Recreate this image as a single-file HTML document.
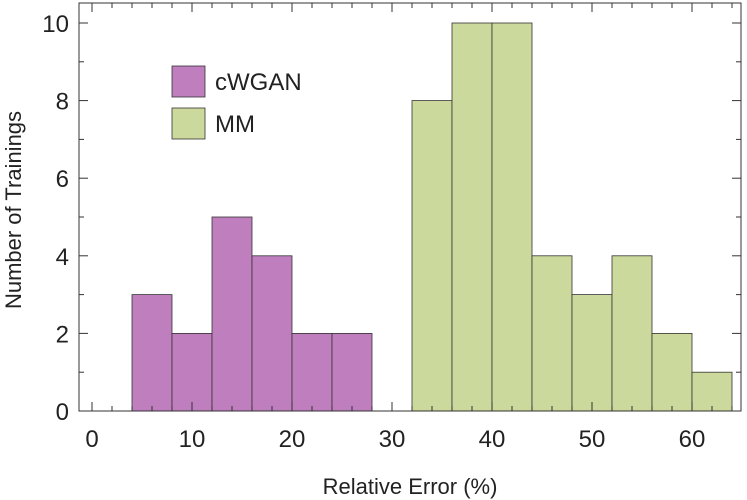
<!DOCTYPE html>
<html><head><meta charset="utf-8"><style>body{margin:0;background:#fff}svg{display:block}text{font-family:"Liberation Sans",sans-serif;fill:#222}</style></head>
<body>
<svg id="c" width="747" height="500"></svg>
<script>
const binStarts=[4,8,12,16,20,24,32,36,40,44,48,52,56,60];
const cwganStarts=[4,8,12,16,20,24];
const cwganCounts=[3,2,5,4,2,2];
const mmStarts=[32,36,40,44,48,52,56,60];
const mmCounts=[8,10,10,4,3,4,2,1];
const binWidth=4;
const xTicks=[0,10,20,30,40,50,60];
const yTicks=[0,2,4,6,8,10];
const svg=document.getElementById('c');
const NS='http://www.w3.org/2000/svg';
const L=79,R=741,T=3,B=411;
const xs=v=>92+v*10;
const ys=v=>411-v*38.8;
function mk(t,a,p){const e=document.createElementNS(NS,t);for(const k in a)e.setAttribute(k,a[k]);(p||svg).appendChild(e);return e;}
function bars(starts,counts,fill,name){
 const g=mk('g',{});
 
 
 starts.forEach((s,i)=>{
  const r=mk('rect',{x:xs(s),y:ys(counts[i]),width:xs(s+binWidth)-xs(s),height:ys(0)-ys(counts[i]),fill:fill,stroke:'#333','stroke-width':0.8},g);
  
  
 });
}
bars(cwganStarts,cwganCounts,'#bf7fbf','cwgan');
bars(mmStarts,mmCounts,'#cbda9c','mm');
const ax=mk('g',{stroke:'#333','stroke-width':1,fill:'none'});


mk('rect',{x:L,y:T,width:R-L,height:B-T},ax);
for(let v=0;v<=64;v+=2){const big=v%10===0,len=big?9:5;
 mk('line',{x1:xs(v),x2:xs(v),y1:B,y2:B-len},ax);mk('line',{x1:xs(v),x2:xs(v),y1:T,y2:T+len},ax);}
for(let v=0;v<=10;v++){const big=v%2===0,len=big?9:5;
 mk('line',{x1:L,x2:L+len,y1:ys(v),y2:ys(v)},ax);mk('line',{x1:R,x2:R-len,y1:ys(v),y2:ys(v)},ax);}
xTicks.forEach(v=>{const t=mk('text',{x:xs(v),y:447,'text-anchor':'middle','font-size':24});t.textContent=v;
 });
yTicks.forEach(v=>{const t=mk('text',{x:L-10,y:ys(v)+9,'text-anchor':'end','font-size':24});t.textContent=v;
 });
</script>
<div style="position:absolute;left:0;top:0;width:747px;height:500px;pointer-events:none">
<svg width="747" height="500">
<text x="410" y="494" text-anchor="middle" font-size="22">Relative Error (%)</text>
<text transform="translate(21,210) rotate(-90)" text-anchor="middle" font-size="22">Number of Trainings</text>
<g>
<rect x="172" y="66" width="33" height="31" fill="#bf7fbf" stroke="#333" stroke-width="0.8"/>
<text x="215" y="90" font-size="24">cWGAN</text>
<rect x="172" y="108" width="33" height="31" fill="#cbda9c" stroke="#333" stroke-width="0.8"/>
<text x="215" y="132" font-size="24">MM</text>
</g>
</svg></div>
</body></html>
